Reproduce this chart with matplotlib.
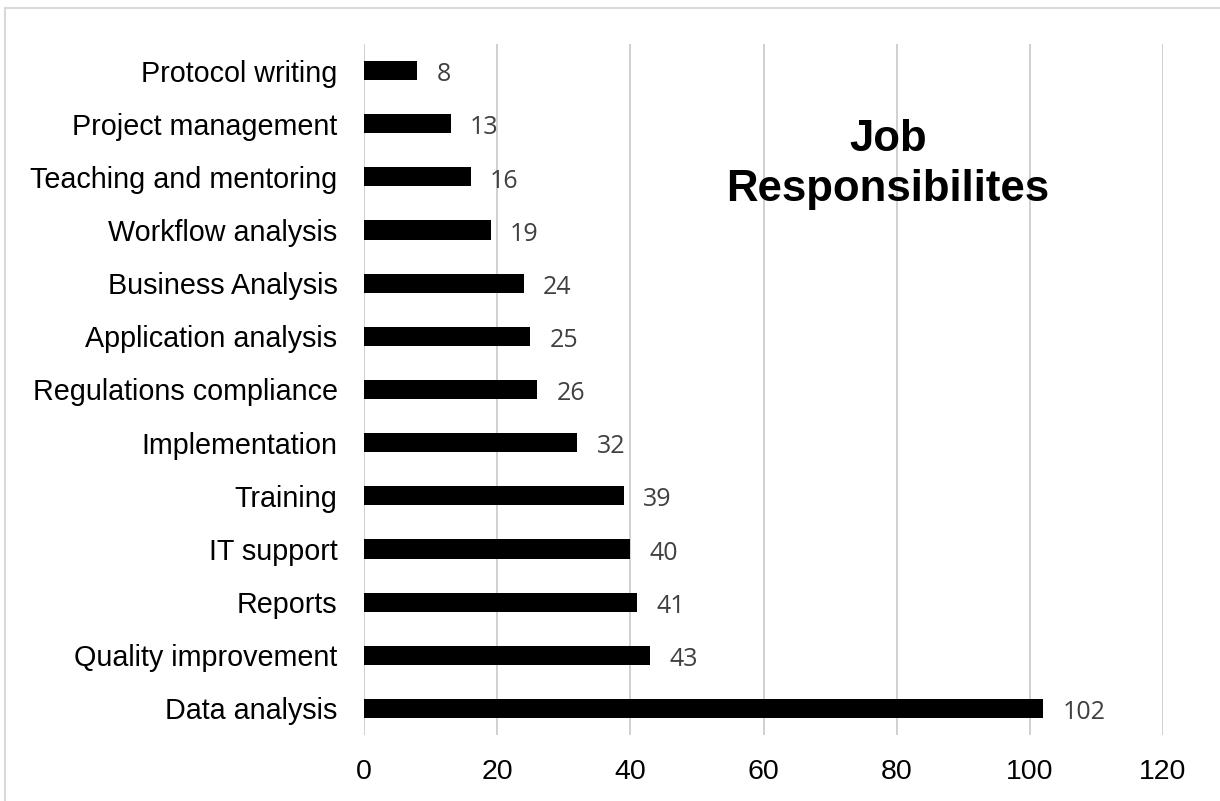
import matplotlib.pyplot as plt
from matplotlib.patches import Rectangle

# Data (bottom to top)
categories = ["Data analysis", "Quality improvement", "Reports", "IT support",
              "Training", "Implementation", "Regulations compliance",
              "Application analysis", "Business Analysis", "Workflow analysis",
              "Teaching and mentoring", "Project management", "Protocol writing"]
counts = [102, 43, 41, 40, 39, 32, 26, 25, 24, 19, 16, 13, 8]
x_ticks = [0, 20, 40, 60, 80, 100, 120]

plt.rcParams['font.family'] = ['Liberation Sans', 'DejaVu Sans']

fig = plt.figure(figsize=(12.2, 8.01), dpi=100)
ax = fig.add_axes([364 / 1220, 1 - 735 / 801, 799 / 1220, 691 / 801])

y = range(len(categories))
ax.barh(y, counts, height=0.36, color="black", zorder=3)

for yi, v in zip(y, counts):
    ax.annotate(str(v), (v, yi), xytext=(14, -3), textcoords="offset points",
                va="center", ha="left", fontsize=18, color="#404040",
                family=["Open Sans", "DejaVu Sans"])

ax.set_xlim(0, 120)
ax.set_ylim(-0.5, len(categories) - 0.5)
ax.set_xticks(x_ticks)
ax.set_xticklabels([str(t) for t in x_ticks], fontsize=20.5)
ax.set_yticks(list(y))
ax.set_yticklabels(categories, fontsize=20.7)
ax.tick_params(axis="x", length=0, pad=17)
ax.tick_params(axis="y", length=0, pad=19)

ax.grid(axis="x", color="#d0d0d0", linewidth=1.4, zorder=0)
for s in ax.spines.values():
    s.set_visible(False)

ax.text(0.656, 0.826, "Job\nResponsibilites", transform=ax.transAxes,
        ha="center", va="center", fontsize=31.5, fontweight="bold",
        linespacing=1.28)

# light frame around the chart
fig.patches.append(Rectangle((5 / 1220, -0.05), 1.2, 1 - 8 / 801 + 0.05,
                             transform=fig.transFigure, fill=False,
                             edgecolor="#d9d9d9", linewidth=1.5))

fig.savefig("out.png", dpi=100)
